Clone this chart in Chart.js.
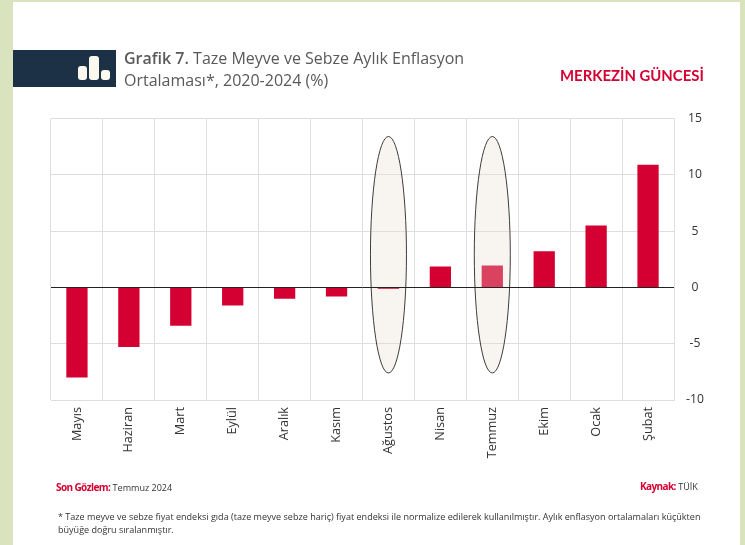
<!DOCTYPE html>
<html lang="tr">
<head>
<meta charset="utf-8">
<title>Grafik 7</title>
<script src="https://cdn.jsdelivr.net/npm/chart.js@4"></script>
<style>
    html, body { margin: 0; padding: 0; }
    body { width: 745px; height: 545px; background: #d9e4bf; overflow: hidden; position: relative; font-family: "Open Sans", sans-serif; }
    #panel { position: absolute; left: 13px; top: 2px; width: 727px; height: 543px; background: #fff; }
    #chart { position: absolute; left: 0; top: 0; }
    #band { position: absolute; left: 13px; top: 50px; width: 103px; height: 37px; background: #1c3146; }
    .pill { position: absolute; background: #fdf8ee; border-radius: 3px; }
    .txt { position: absolute; white-space: nowrap; }
    #title { left: 124px; top: 48px; font-size: 16px; line-height: 21.5px; color: #58595b; }
    #title b { font-weight: 600; }
    #brand { left: 560px; top: 66px; font-family: Lato, sans-serif; font-size: 14.9px; font-weight: 700; color: #d50032; }
    .red { color: #d50032; font-weight: 700; font-size: 10px; letter-spacing: -0.6px; }
    .small { font-size: 9.05px; color: #333; }
</style>
</head>
<body>
<div id="panel"></div>
<canvas id="chart" width="745" height="545"></canvas>
<div id="band">
    <div class="pill" style="left:65px;top:16px;width:9px;height:14px"></div>
    <div class="pill" style="left:76px;top:6px;width:10px;height:24px"></div>
    <div class="pill" style="left:88px;top:20px;width:9px;height:10px"></div>
</div>
<div class="txt" id="title"><b>Grafik 7.</b> Taze Meyve ve Sebze Aylık Enflasyon<br>Ortalaması*, 2020-2024 (%)</div>
<div class="txt" id="brand">MERKEZİN GÜNCESİ</div>
<div class="txt small" style="left:56px;top:480px"><span class="red">Son Gözlem:</span> Temmuz 2024</div>
<div class="txt small" style="left:640px;top:479px"><span class="red">Kaynak:</span> TÜİK</div>
<div class="txt small" style="left:58px;top:511px;line-height:12.5px">* Taze meyve ve sebze fiyat endeksi gıda (taze meyve sebze hariç) fiyat endeksi ile normalize edilerek kullanılmıştır. Aylık enflasyon ortalamaları küçükten<br>büyüğe doğru sıralanmıştır.</div>
<script>
var months = ['Mayıs', 'Haziran', 'Mart', 'Eylül', 'Aralık', 'Kasım', 'Ağustos', 'Nisan', 'Temmuz', 'Ekim', 'Ocak', 'Şubat'];
var inflation = [-8.0, -5.3, -3.4, -1.6, -1.0, -0.8, -0.15, 1.85, 1.95, 3.2, 5.5, 10.9];
var yTicks = [15, 10, 5, 0, -5, -10];
var highlighted = ['Ağustos', 'Temmuz'];
var highlightTop = 13.4;
var highlightBottom = -7.6;

// ellipses go over the bars, so the zero line has to be redrawn after them
var highlightPlugin = {
    id: 'highlight',
    afterDatasetsDraw: function (chart) {
        var ctx = chart.ctx;
        var x = chart.scales.x;
        var y = chart.scales.y;
        var top = y.getPixelForValue(highlightTop);
        var bottom = y.getPixelForValue(highlightBottom);
        ctx.save();
        highlighted.forEach(function (m) {
            ctx.beginPath();
            ctx.ellipse(x.getPixelForValue(months.indexOf(m)), (top + bottom) / 2, 18, (bottom - top) / 2, 0, 0, Math.PI * 2);
            ctx.fillStyle = 'rgba(232,222,205,0.3)';
            ctx.fill();
            ctx.strokeStyle = '#3c3c3c';
            ctx.lineWidth = 1;
            ctx.stroke();
        });
        var zero = Math.floor(y.getPixelForValue(0)) + 0.5;
        ctx.beginPath();
        ctx.moveTo(chart.chartArea.left, zero);
        ctx.lineTo(chart.chartArea.right, zero);
        ctx.strokeStyle = '#222';
        ctx.lineWidth = 1;
        ctx.stroke();
        ctx.restore();
    }
};

new Chart(document.getElementById('chart').getContext('2d'), {
    type: 'bar',
    data: {
        labels: months,
        datasets: [{
            data: inflation,
            backgroundColor: '#d50032',
            barPercentage: 0.41,
            categoryPercentage: 1
        }]
    },
    options: {
        responsive: false,
        animation: false,
        layout: { padding: { left: 51, top: 118.5, right: 0, bottom: 0 } },
        plugins: { legend: { display: false }, tooltip: { enabled: false } },
        scales: {
            x: {
                afterFit: function (scale) { scale.height = 145; },
                grid: { color: '#dedede', lineWidth: 1, drawTicks: false, offset: true },
                border: { color: '#dedede' },
                ticks: {
                    color: '#333',
                    font: { family: 'Open Sans', size: 12.7 },
                    maxRotation: 90,
                    minRotation: 90,
                    padding: 7
                }
            },
            y: {
                position: 'right',
                min: -10,
                max: 15,
                afterFit: function (scale) { scale.width = 71; },
                afterBuildTicks: function (scale) {
                    scale.ticks = yTicks.map(function (v) { return { value: v }; });
                },
                grid: { color: '#dedede', lineWidth: 1, drawTicks: false },
                border: { color: '#dedede' },
                ticks: {
                    color: '#333',
                    font: { family: 'Open Sans', size: 12.2 },
                    crossAlign: 'center',
                    padding: 12
                }
            }
        }
    },
    plugins: [highlightPlugin]
});
</script>
</body>
</html>
